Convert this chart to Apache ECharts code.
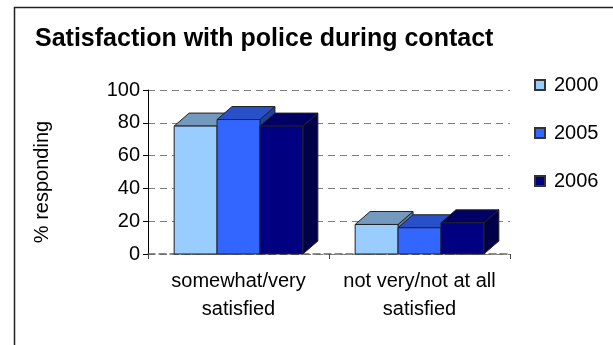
<!DOCTYPE html>
<html>
<head>
<meta charset="utf-8">
<script src="https://cdn.jsdelivr.net/npm/echarts@6/dist/echarts.min.js"></script>
<style>
html,body{margin:0;padding:0;background:#fff;}
#chart{width:613px;height:345px;}
</style>
</head>
<body>
<div id="chart"></div>
<script>
const categories = ['somewhat/very\nsatisfied', 'not very/not at all\nsatisfied'];
const years = ['2000', '2005', '2006'];
const values2000 = [78, 18];
const values2005 = [82, 16];
const values2006 = [78, 19];
const seriesValues = [values2000, values2005, values2006];

const frontColors = ['#99CCFF', '#3366FF', '#000080'];
const topColors = ['#7399BF', '#2850C8', '#000064'];
const sideColors = ['#5F7F9F', '#1F40A0', '#000048'];

const chart = echarts.init(document.getElementById('chart'), null, {renderer: 'canvas'});

function makeRender(si) {
  return function (params, api) {
    const ci = api.value(0), v = api.value(1);
    const top = api.coord([ci, v]);
    const base = api.coord([ci, 0]);
    const band = api.size([1, 0])[0];
    const w = band * 0.237;
    const dx = 15, dy = 13;
    const x0 = top[0] - 1.5 * w + si * w;
    const x1 = x0 + w;
    const yt = top[1], yb = base[1];
    const stroke = {stroke: '#222', lineWidth: 1};
    return {
      type: 'group',
      children: [
        {type: 'polygon', shape: {points: [[x1, yt], [x1 + dx, yt - dy], [x1 + dx, yb - dy], [x1, yb]]},
          style: Object.assign({fill: sideColors[si]}, stroke)},
        {type: 'polygon', shape: {points: [[x0, yt], [x0 + dx, yt - dy], [x1 + dx, yt - dy], [x1, yt]]},
          style: Object.assign({fill: topColors[si]}, stroke)},
        {type: 'rect', shape: {x: x0, y: yt, width: w, height: yb - yt},
          style: Object.assign({fill: frontColors[si]}, stroke)}
      ]
    };
  };
}

const series = years.map((y, si) => ({
  name: y,
  type: 'custom',
  renderItem: makeRender(si),
  encode: {x: 0, y: 1},
  itemStyle: {color: frontColors[si], borderColor: '#333', borderWidth: 1},
  data: seriesValues[si].map((v, i) => [i, v])
}));

const fontFam = '"Liberation Sans", Arial, sans-serif';

chart.setOption({
  animation: false,
  backgroundColor: '#fff',
  title: {
    text: 'Satisfaction with police during contact',
    left: 35, top: 27, padding: 0,
    textStyle: {fontFamily: fontFam, fontWeight: 'bold', fontSize: 25, color: '#000'}
  },
  legend: {
    orient: 'vertical',
    left: 529, top: 70,
    itemWidth: 10, itemHeight: 10,
    itemGap: 28,
    icon: 'rect',
    data: years,
    textStyle: {fontFamily: fontFam, fontSize: 20, color: '#000', padding: [0, 0, 0, 4]}
  },
  grid: {left: 148, right: 103, top: 90, bottom: 91, containLabel: false},
  xAxis: {
    type: 'category',
    data: categories,
    axisLine: {lineStyle: {color: '#666', width: 1.5, type: [7, 4]}},
    axisTick: {show: true, length: 5, lineStyle: {color: '#444'}},
    axisLabel: {interval: 0, fontFamily: fontFam, fontSize: 20, color: '#000', lineHeight: 28, margin: 13}
  },
  yAxis: {
    type: 'value', min: 0, max: 100, interval: 20,
    axisLine: {show: true, lineStyle: {color: '#000', width: 1}},
    axisTick: {show: true, length: 5, lineStyle: {color: '#000'}},
    axisLabel: {fontFamily: fontFam, fontSize: 20, color: '#000', margin: 8},
    splitLine: {show: true, lineStyle: {color: '#808080', width: 1, type: [7, 5]}}
  },
  graphic: [
    {type: 'rect', left: 12, top: 5, shape: {x: 0, y: 0, width: 700, height: 400},
      style: {fill: 'none', stroke: '#222', lineWidth: 1.5}, silent: true},
    {type: 'text', x: 42, y: 182, rotation: Math.PI / 2,
      style: {text: '% responding', fontFamily: fontFam, fontSize: 20, fill: '#000',
        textAlign: 'center', textVerticalAlign: 'middle'}}
  ],
  series: series
});
</script>
</body>
</html>
